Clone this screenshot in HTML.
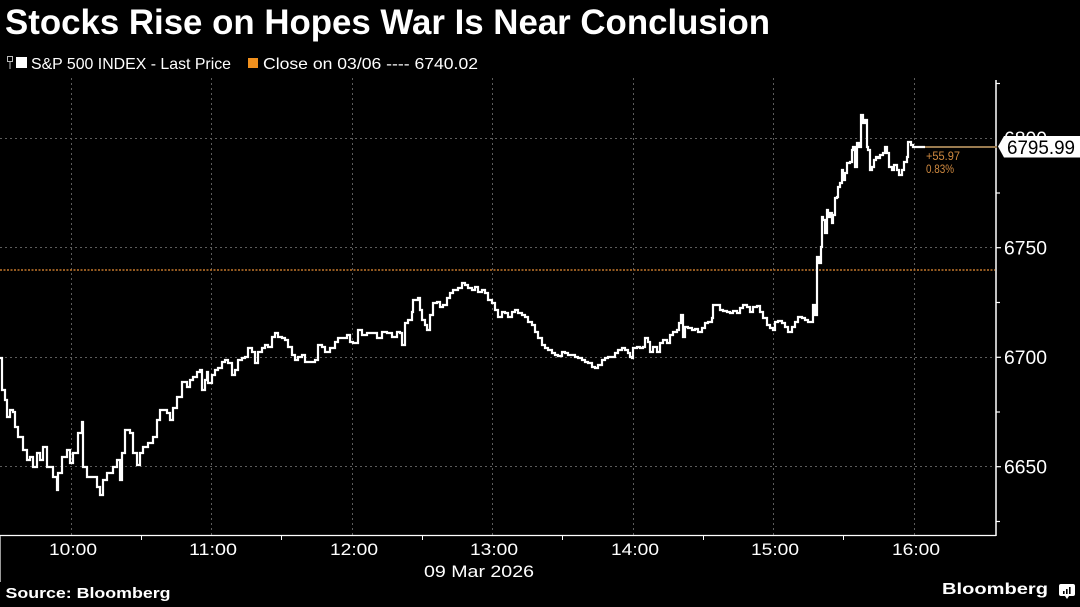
<!DOCTYPE html>
<html>
<head>
<meta charset="utf-8">
<style>
html,body{margin:0;padding:0;background:#000;}
svg{display:block;}
text{font-family:"Liberation Sans",sans-serif;}
</style>
</head>
<body>
<svg width="1080" height="607" viewBox="0 0 1080 607" xmlns="http://www.w3.org/2000/svg">
<rect width="1080" height="607" fill="#000"/>

<!-- Title -->
<text x="5" y="34" font-size="35" font-weight="bold" fill="#fff" textLength="765" lengthAdjust="spacingAndGlyphs">Stocks Rise on Hopes War Is Near Conclusion</text>

<!-- Legend -->
<rect x="7.5" y="56.5" width="5" height="5" fill="none" stroke="#bbb" stroke-width="1"/>
<line x1="10" y1="61" x2="10" y2="69" stroke="#bbb" stroke-width="1"/>
<rect x="16" y="57" width="11" height="11" fill="#fff"/>
<text x="31" y="69" font-size="16" fill="#fff" textLength="200" lengthAdjust="spacingAndGlyphs">S&amp;P 500 INDEX - Last Price</text>
<rect x="248" y="58" width="10" height="10" fill="#f0901e"/>
<text x="263" y="69" font-size="16" fill="#fff" textLength="215" lengthAdjust="spacingAndGlyphs">Close on 03/06 ---- 6740.02</text>

<!-- Grid -->
<g stroke="#5c5c5c" stroke-width="1" stroke-dasharray="2 3">
<line x1="71.5" y1="78" x2="71.5" y2="535"/>
<line x1="211.5" y1="78" x2="211.5" y2="535"/>
<line x1="352.5" y1="78" x2="352.5" y2="535"/>
<line x1="492.5" y1="78" x2="492.5" y2="535"/>
<line x1="633.5" y1="78" x2="633.5" y2="535"/>
<line x1="773.5" y1="78" x2="773.5" y2="535"/>
<line x1="914.5" y1="78" x2="914.5" y2="535"/>
<line x1="0" y1="138.5" x2="995" y2="138.5"/>
<line x1="0" y1="247.5" x2="995" y2="247.5"/>
<line x1="0" y1="357.5" x2="995" y2="357.5"/>
<line x1="0" y1="466.5" x2="995" y2="466.5"/>
</g>

<!-- Close line -->
<line x1="0" y1="270" x2="995" y2="270" stroke="#c4782c" stroke-width="1.6" stroke-dasharray="2 1.5"/>

<!-- Axes -->
<line x1="0" y1="535.5" x2="996" y2="535.5" stroke="#fff" stroke-width="1.2"/>
<line x1="996" y1="80" x2="996" y2="536" stroke="#fff" stroke-width="1.5"/>
<line x1="0.5" y1="536" x2="0.5" y2="582" stroke="#999" stroke-width="1"/>

<!-- x ticks -->
<g stroke="#fff" stroke-width="1">
<line x1="141.5" y1="536" x2="141.5" y2="540"/>
<line x1="281.5" y1="536" x2="281.5" y2="540"/>
<line x1="422.5" y1="536" x2="422.5" y2="540"/>
<line x1="562.5" y1="536" x2="562.5" y2="540"/>
<line x1="703.5" y1="536" x2="703.5" y2="540"/>
<line x1="843.5" y1="536" x2="843.5" y2="540"/>
</g>

<!-- y ticks -->
<g stroke="#fff" stroke-width="1.2">
<line x1="996" y1="83.5" x2="1000" y2="83.5"/>
<line x1="996" y1="193" x2="1000" y2="193"/>
<line x1="996" y1="302.5" x2="1000" y2="302.5"/>
<line x1="996" y1="412" x2="1000" y2="412"/>
<line x1="996" y1="521.5" x2="1000" y2="521.5"/>
<line x1="996" y1="247.7" x2="1001" y2="247.7"/>
<line x1="996" y1="357.3" x2="1001" y2="357.3"/>
<line x1="996" y1="466.7" x2="1001" y2="466.7"/>
</g>

<!-- y labels -->
<g font-size="19" fill="#fff">
<text x="1004" y="145" textLength="43" lengthAdjust="spacingAndGlyphs">6800</text>
<text x="1004" y="254.5" textLength="43" lengthAdjust="spacingAndGlyphs">6750</text>
<text x="1004" y="364" textLength="43" lengthAdjust="spacingAndGlyphs">6700</text>
<text x="1004" y="473.5" textLength="43" lengthAdjust="spacingAndGlyphs">6650</text>
</g>

<!-- x labels -->
<g font-size="17" fill="#fff" text-anchor="middle">
<text x="73" y="555" textLength="48" lengthAdjust="spacingAndGlyphs">10:00</text>
<text x="213" y="555" textLength="48" lengthAdjust="spacingAndGlyphs">11:00</text>
<text x="354" y="555" textLength="48" lengthAdjust="spacingAndGlyphs">12:00</text>
<text x="494" y="555" textLength="48" lengthAdjust="spacingAndGlyphs">13:00</text>
<text x="635" y="555" textLength="48" lengthAdjust="spacingAndGlyphs">14:00</text>
<text x="775" y="555" textLength="48" lengthAdjust="spacingAndGlyphs">15:00</text>
<text x="916" y="555" textLength="48" lengthAdjust="spacingAndGlyphs">16:00</text>
<text x="479" y="577" textLength="110" lengthAdjust="spacingAndGlyphs">09 Mar 2026</text>
</g>

<!-- Series -->
<path fill="none" stroke="#fff" stroke-width="2.2" stroke-linejoin="miter" d="M0 358H2V390H5V400H7V417H10V410H13V412H15V427H18V437H22V437H23V450H27V460H30V457H33V467H37V453H40V460H43V447H47V467H50V467H53V477H57V490H58V473H62V457H67V450H70V463H73V453H78V433H82V422H83V467H87V477H92V477H97V487H100V495H103V480H107V473H113V467H117V460H120V480H122V453H125V430H130V433H133V453H137V465H140V453H143V447H148V443H153V437H157V420H160V410H167V413H170V420H173V408H177V397H182V382H187V387H190V380H193V377H197V372H200V370H202V390H205V380H207V372H208V383H212V375H215V370H218V368H222V362H225V360H228V363H232V375H235V370H238V360H242V358H245V357H248V348H252V352H255V363H258V352H262V348H265V345H268V347H272V337H275V333H278V337H282V338H285V340H288V347H292V355H295V360H298V357H302V355H305V362H310V362H315V360H318V345H322V347H325V352H330V348H335V342H338V338H343V338H347V335H350V342H353V343H358V330H362V335H367V333H372V333H377V338H382V332H387V333H392V337H397V332H400V333H402V345H405V323H408V320H412V312H413V300H418V298H420V310H422V320H425V325H427V330H430V315H433V303H437V302H440V307H443V305H447V298H450V293H453V290H458V288H462V283H465V285H468V288H472V290H475V287H478V292H482V290H485V293H488V300H492V303H495V310H498V317H502V312H505V313H508V317H512V312H515V310H518V313H522V315H525V317H528V322H532V325H535V332H538V338H542V345H545V348H548V350H552V353H555V355H558V356H562V352H565V353H568V355H572V355H575V357H578V358H582V360H585V362H588V363H592V367H595V368H598V365H602V360H605V358H608V357H612V357H615V353H618V350H622V348H625V350H628V353H630V357H632V358H633V348H637V347H640V348H643V347H645V338H648V342H650V352H653V347H657V352H660V343H663V340H667V343H670V335H673V332H677V330H679V323H681V315H683V337H685V327H688V328H692V330H695V329H698V332H702V328H705V323H708V322H712V318H713V305H717V305H720V310H723V311H727V312H730V313H733V311H737V313H740V308H743V305H747V307H750V312H753V307H757V306H760V312H763V318H767V325H770V328H773V330H775V322H778V321H782V323H785V327H788V332H792V327H795V322H798V317H802V318H805V320H808V322H812V322H813V305H815V315H817V313V257H819V263H821V247H822V217H823V220H825V233H827V210H828V217H830V213H832V223H833V215H835V198H837V197H838V187H840V183H842V170H843V180H845V173H847V163H850V162H852V150H853V147H855V167H857V143H859V147H861V115H863V123H865V120H867V147H868V150H870V170H872V167H874V160H876V157H878V158H880V155H883V153H885V147H887V153H889V167H892V170H894V165H897V170H899V175H902V170H904V162H907V157H908V142H911V145H913V147H925"/>

<!-- Last price line -->
<line x1="925" y1="147" x2="997" y2="147" stroke="#9a7b50" stroke-width="2"/>
<text x="926" y="160" font-size="12" fill="#d08a40" textLength="34" lengthAdjust="spacingAndGlyphs">+55.97</text>
<text x="926" y="173" font-size="12" fill="#d08a40" textLength="28" lengthAdjust="spacingAndGlyphs">0.83%</text>

<!-- Price tag -->
<polygon points="998,146.5 1004,136 1080,136 1080,157.5 1004,157.5" fill="#fff"/>
<text x="1007" y="154" font-size="19" fill="#000" textLength="68" lengthAdjust="spacingAndGlyphs">6795.99</text>

<!-- Footer -->
<text x="5.5" y="598" font-size="14.5" font-weight="bold" fill="#fff" textLength="165" lengthAdjust="spacingAndGlyphs">Source: Bloomberg</text>
<text x="942" y="594" font-size="16" font-weight="bold" fill="#fff" textLength="106" lengthAdjust="spacingAndGlyphs">Bloomberg</text>
<path d="M1061 584H1073Q1075 584 1075 586V594Q1075 596 1073 596H1069L1067 599L1065 596H1061Q1059 596 1059 594V586Q1059 584 1061 584Z" fill="#fff"/>
<rect x="1063" y="591" width="1.6" height="3" fill="#000"/>
<rect x="1066" y="589" width="1.6" height="5" fill="#000"/>
<rect x="1069" y="587" width="1.6" height="7" fill="#000"/>
</svg>
</body>
</html>
